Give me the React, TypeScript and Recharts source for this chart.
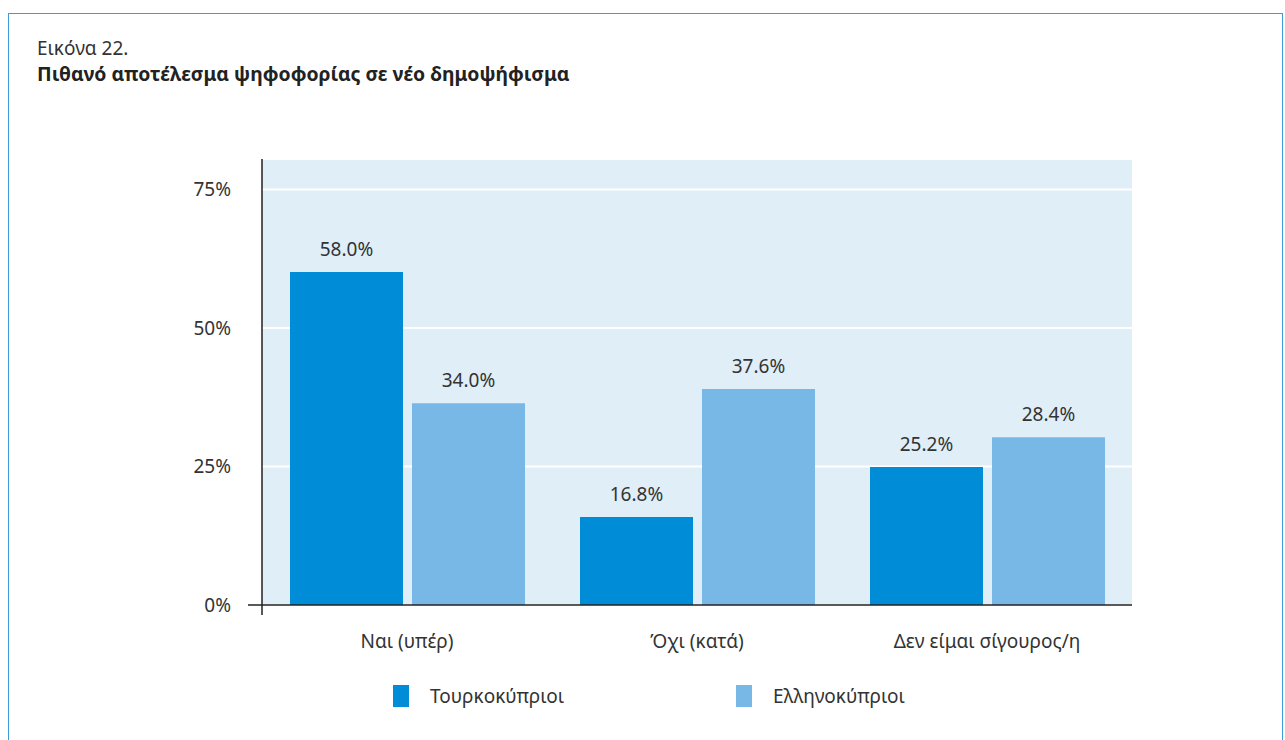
import React from 'react';
import { BarChart, Bar, XAxis, YAxis, CartesianGrid, LabelList } from 'recharts';

// Categories and values (bar heights, printed labels kept separately)
const categories = ['Ναι (υπέρ)', 'Όχι (κατά)', 'Δεν είμαι σίγουρος/η'];
const turkishCypriots = [60.1, 15.9, 24.9];
const greekCypriots = [36.4, 39.0, 30.3];
const turkishLabels = [58.0, 16.8, 25.2];
const greekLabels = [34.0, 37.6, 28.4];
const yTicks = [0, 25, 50, 75];
const seriesNames = ['Τουρκοκύπριοι', 'Ελληνοκύπριοι'];
const seriesColors = ['#008CD6', '#78B8E6'];

const FONT = '"Noto Sans", sans-serif';
const TEXT = '#333333';
const AXIS = '#222222';

const data = categories.map((name, i) => ({
  name,
  tc: turkishCypriots[i],
  gc: greekCypriots[i],
  tcLabel: turkishLabels[i].toFixed(1) + '%',
  gcLabel: greekLabels[i].toFixed(1) + '%',
}));

const YTick = (props: any) => {
  const { x, y, payload } = props;
  return (
    <g>
      <text x={x} y={y} dy={7} textAnchor="end" fill={TEXT} fontSize={19} fontFamily={FONT}>
        {payload.value}%
      </text>
      {payload.value === 0 && (
        <g stroke={AXIS} strokeWidth={1.5}>
          <line x1={x + 17} y1={y} x2={x + 31} y2={y} />
          <line x1={x + 31} y1={y} x2={x + 31} y2={y + 10} />
        </g>
      )}
    </g>
  );
};

const App = () => {
  return (
    <div
      style={{
        position: 'absolute',
        left: 0,
        top: 0,
        width: 1285,
        height: 740,
        overflow: 'hidden',
        background: '#fff',
        fontFamily: FONT,
        color: TEXT,
      }}
    >
      <div
        style={{
          position: 'absolute',
          left: 8,
          top: 13,
          width: 1273,
          height: 800,
          border: '1.5px solid #3F9BD8',
        }}
      />
      <div style={{ position: 'absolute', left: 37, top: 36, fontSize: 19, lineHeight: 1.362 }}>Εικόνα 22.</div>
      <div style={{ position: 'absolute', left: 37, top: 61, fontSize: 19.4, lineHeight: 1.362, fontWeight: 700, color: '#222' }}>
        Πιθανό αποτέλεσμα ψηφοφορίας σε νέο δημοψήφισμα
      </div>

      <div style={{ position: 'absolute', left: 0, top: 0 }}>
        <BarChart
          width={1285}
          height={740}
          data={data}
          margin={{ top: 159, right: 153, bottom: 105, left: 202 }}
          barSize={113}
          barGap={9}
        >
          <CartesianGrid vertical={false} fill="#E0EEF8" stroke="#ffffff" strokeWidth={2} />
          <XAxis
            dataKey="name"
            height={30}
            axisLine={{ stroke: AXIS, strokeWidth: 1.5 }}
            tickLine={false}
            tickSize={0}
            tickMargin={30}
            tick={{ fill: TEXT, fontSize: 19, fontFamily: FONT }}
          />
          <YAxis
            width={60}
            domain={[0, 80.5]}
            ticks={yTicks}
            axisLine={{ stroke: AXIS, strokeWidth: 1.5 }}
            tickLine={false}
            tickSize={0}
            tickMargin={31}
            tick={<YTick />}
          />
          <Bar dataKey="tc" name={seriesNames[0]} fill={seriesColors[0]} isAnimationActive={false}>
            <LabelList dataKey="tcLabel" position="top" offset={16} fill={TEXT} fontSize={19} fontFamily={FONT} />
          </Bar>
          <Bar dataKey="gc" name={seriesNames[1]} fill={seriesColors[1]} isAnimationActive={false}>
            <LabelList dataKey="gcLabel" position="top" offset={16} fill={TEXT} fontSize={19} fontFamily={FONT} />
          </Bar>
        </BarChart>
      </div>

      <div style={{ position: 'absolute', left: 393, top: 683, display: 'flex', fontSize: 19 }}>
        {seriesNames.map((n, i) => (
          <div key={n} style={{ display: 'flex', alignItems: 'center', width: 343 }}>
            <span style={{ display: 'inline-block', width: 16, height: 22, background: seriesColors[i], marginRight: 21 }} />
            <span>{n}</span>
          </div>
        ))}
      </div>
    </div>
  );
};

export default App;
